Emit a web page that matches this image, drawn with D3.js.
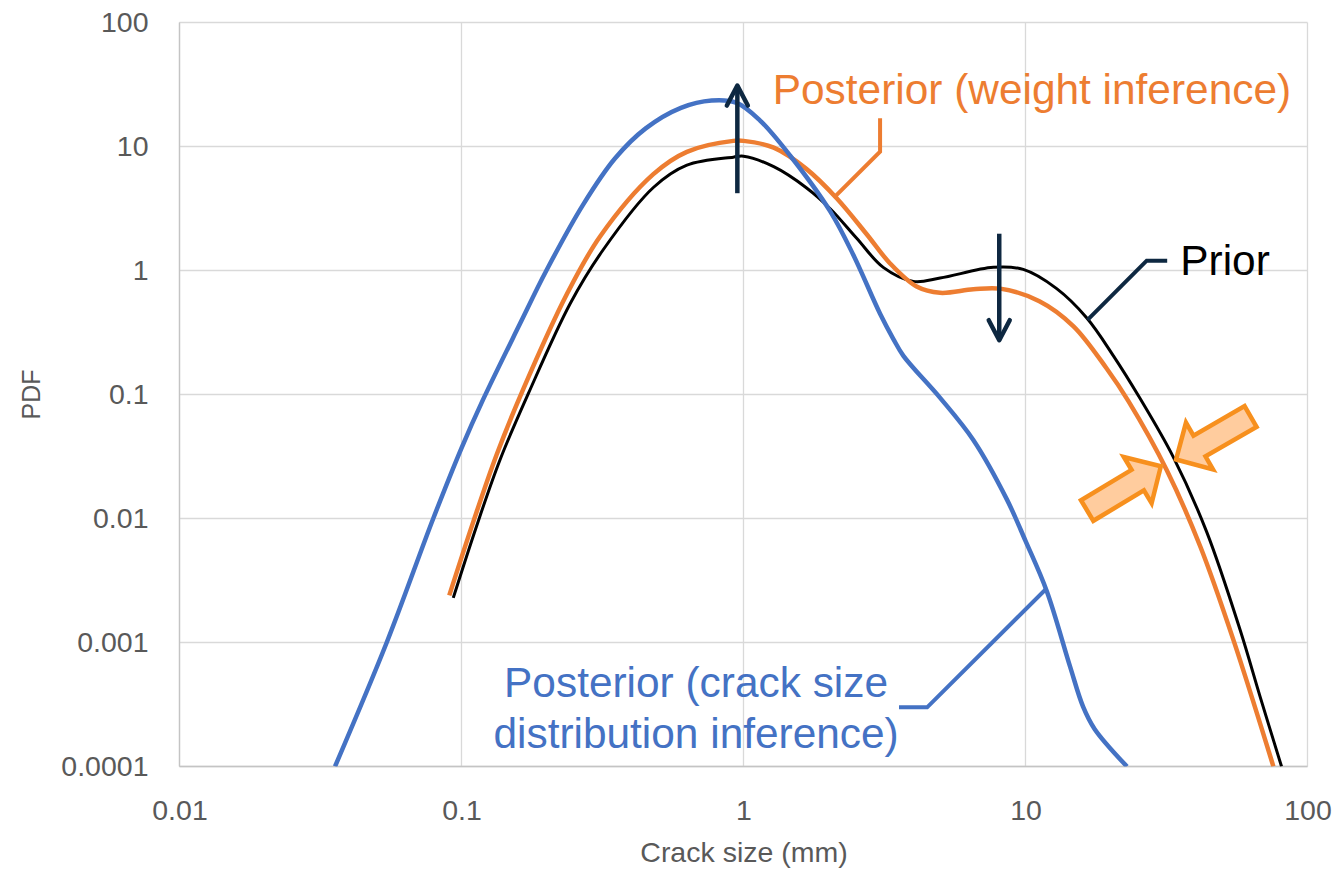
<!DOCTYPE html>
<html>
<head>
<meta charset="utf-8">
<script src="https://cdn.jsdelivr.net/npm/d3@7/dist/d3.min.js"></script>
<style>
  body { margin: 0; background: #fff; }
  text { font-family: "Liberation Sans", Arial, sans-serif; }
</style>
</head>
<body>
<div id="chart"></div>
<script>
// tick values and labels
var xTicks = [0.01, 0.1, 1, 10, 100];
var xTickLabels = ["0.01", "0.1", "1", "10", "100"];
var yTicks = [0.0001, 0.001, 0.01, 0.1, 1, 10, 100];
var yTickLabels = ["0.0001", "0.001", "0.01", "0.1", "1", "10", "100"];

// Prior (black)
var priorX = [0.0935, 0.113, 0.137, 0.173, 0.243, 0.318, 0.479, 0.63, 0.92, 1.0, 1.28, 1.67, 2.03, 2.52, 3.13, 4.0, 4.98, 7.69, 9.82, 12.9, 16.5, 20.5, 25.4, 33.4, 43.9, 57.7, 67.9, 80.9];
var priorY = [0.00229, 0.00863, 0.0298, 0.103, 0.542, 1.47, 4.67, 7.07, 8.2, 8.35, 6.87, 4.65, 3.15, 1.82, 1.06, 0.817, 0.869, 1.06, 1.02, 0.714, 0.414, 0.205, 0.094, 0.0314, 0.0078, 0.00126, 0.000366, 0.0001];

// Posterior (weight inference), orange
var weightX = [0.0905, 0.11, 0.133, 0.166, 0.236, 0.31, 0.479, 0.63, 0.92, 1.0, 1.28, 1.67, 2.14, 2.73, 3.31, 4.11, 4.98, 6.53, 8.13, 11.2, 14.8, 19.4, 23.2, 31.7, 41.7, 54.6, 75.7];
var weightY = [0.0024, 0.00935, 0.0324, 0.112, 0.64, 1.88, 5.98, 9.06, 11.1, 11.1, 9.78, 6.6, 3.83, 1.97, 1.14, 0.743, 0.661, 0.705, 0.714, 0.566, 0.355, 0.162, 0.088, 0.0245, 0.00592, 0.00105, 0.0001];

// Posterior (crack size distribution inference), blue
var crackX = [0.0356, 0.0543, 0.0794, 0.1, 0.119, 0.161, 0.2, 0.27, 0.35, 0.45, 0.6, 0.771, 0.946, 1.145, 1.46, 2.03, 2.45, 3.05, 3.4, 3.69, 4.98, 6.53, 8.57, 10, 11.9, 14.4, 16.0, 17.6, 22.9];
var crackY = [0.0001, 0.001, 0.01, 0.037, 0.09, 0.37, 1.0, 3.4, 8.0, 14.0, 20.5, 23.5, 22.5, 16.2, 8.5, 3.0, 1.34, 0.448, 0.28, 0.205, 0.094, 0.043, 0.0144, 0.0066, 0.00259, 0.000636, 0.000304, 0.0002, 0.0001];

var svgWidth = 1337;
var svgHeight = 870;

var margin = { top: 22.5, right: 29.5, bottom: 103.5, left: 179.5 };
var width = svgWidth - margin.left - margin.right;
var height = svgHeight - margin.top - margin.bottom;

var svg = d3.select("#chart")
  .append("svg")
  .attr("width", svgWidth)
  .attr("height", svgHeight);

var chartGroup = svg.append("g")
  .attr("transform", `translate(${margin.left}, ${margin.top})`);

var x = d3.scaleLog().domain([0.01, 100]).range([0, width]);
var y = d3.scaleLog().domain([0.0001, 100]).range([height, 0]);

// gridlines
chartGroup.selectAll(".vgrid")
  .data(xTicks)
  .enter()
  .append("line")
  .attr("x1", d => x(d)).attr("x2", d => x(d))
  .attr("y1", 0).attr("y2", height)
  .attr("stroke", "#d9d9d9").attr("stroke-width", 1.3);

chartGroup.selectAll(".hgrid")
  .data(yTicks)
  .enter()
  .append("line")
  .attr("x1", 0).attr("x2", width)
  .attr("y1", d => y(d)).attr("y2", d => y(d))
  .attr("stroke", "#d9d9d9").attr("stroke-width", 1.3);

// axis lines
chartGroup.append("line")
  .attr("x1", 0).attr("x2", 0).attr("y1", 0).attr("y2", height)
  .attr("stroke", "#c4c4c4").attr("stroke-width", 1.3);
chartGroup.append("line")
  .attr("x1", 0).attr("x2", width).attr("y1", height).attr("y2", height)
  .attr("stroke", "#c4c4c4").attr("stroke-width", 1.3);

// axes (labels only)
var leftAxis = d3.axisLeft(y).tickValues(yTicks)
  .tickFormat((d, i) => yTickLabels[i]).tickSize(0).tickPadding(31);
var bottomAxis = d3.axisBottom(x).tickValues(xTicks)
  .tickFormat((d, i) => xTickLabels[i]).tickSize(0).tickPadding(33);

var gy = chartGroup.append("g").call(leftAxis);
var gx = chartGroup.append("g").attr("transform", `translate(0, ${height})`).call(bottomAxis);

[gx, gy].forEach(function(g) {
  g.select(".domain").remove();
  g.attr("font-family", null).attr("font-size", null);
  g.selectAll("text").attr("fill", "#595959").attr("font-size", "28.5px");
});

// axis titles
chartGroup.append("text")
  .attr("transform", `translate(${31 - margin.left}, ${height / 2}) rotate(-90)`)
  .attr("text-anchor", "middle")
  .attr("dy", "0.35em")
  .attr("fill", "#595959")
  .attr("font-size", "25px")
  .text("PDF");

chartGroup.append("text")
  .attr("x", 744 - margin.left)
  .attr("y", 862 - margin.top)
  .attr("text-anchor", "middle")
  .attr("fill", "#595959")
  .attr("font-size", "28.5px")
  .text("Crack size (mm)");

// curves
chartGroup.append("clipPath").attr("id", "plotclip")
  .append("rect").attr("width", width).attr("height", height);

var line = d3.line()
  .x(d => x(d[0]))
  .y(d => y(d[1]))
  .curve(d3.curveCatmullRom.alpha(0.5));

var curves = chartGroup.append("g").attr("clip-path", "url(#plotclip)");

curves.append("path")
  .datum(d3.zip(priorX, priorY))
  .attr("d", line)
  .attr("fill", "none")
  .attr("stroke", "#000")
  .attr("stroke-width", 3);

curves.append("path")
  .datum(d3.zip(weightX, weightY))
  .attr("d", line)
  .attr("fill", "none")
  .attr("stroke", "#ed7d31")
  .attr("stroke-width", 4.5);

curves.append("path")
  .datum(d3.zip(crackX, crackY))
  .attr("d", line)
  .attr("fill", "none")
  .attr("stroke", "#4472c4")
  .attr("stroke-width", 4.5);

// annotations
var navy = "#0e2841";

function vArrow(xv, yFrom, yTo) {
  var px = x(xv), p0 = y(yFrom), p1 = y(yTo);
  var dir = p1 < p0 ? 1 : -1;
  chartGroup.append("line")
    .attr("x1", px).attr("x2", px).attr("y1", p0).attr("y2", p1)
    .attr("stroke", navy).attr("stroke-width", 4.5);
  chartGroup.append("path")
    .attr("d", `M${px - 10.5},${p1 + dir * 20}L${px},${p1}L${px + 10.5},${p1 + dir * 20}`)
    .attr("fill", "none").attr("stroke", navy).attr("stroke-width", 4.5)
    .attr("stroke-linejoin", "round").attr("stroke-linecap", "round");
}
vArrow(0.951, 4.2, 31);
vArrow(8.07, 1.98, 0.274);

var leader = d3.line().x(d => x(d[0])).y(d => y(d[1]));

function callout(pts, color) {
  chartGroup.append("path")
    .attr("d", leader(pts))
    .attr("fill", "none").attr("stroke", color).attr("stroke-width", 4);
}

callout([[16.6, 0.4], [26.9, 1.2], [31.8, 1.2]], navy);
callout([[2.11, 3.94], [3.05, 9.08], [3.05, 16.9]], "#ed7d31");
callout([[3.56, 0.0003], [4.48, 0.0003], [11.8, 0.00269]], "#4472c4");

chartGroup.append("text")
  .attr("x", x(35.4)).attr("y", y(0.92))
  .attr("fill", "#000").attr("font-size", "42.4px")
  .text("Prior");

chartGroup.append("text")
  .attr("x", x(1.27)).attr("y", y(22.0))
  .attr("fill", "#ed7d31").attr("font-size", "42.4px")
  .text("Posterior (weight inference)");

var blueLabel = chartGroup.append("text")
  .attr("x", x(0.679)).attr("y", y(0.000361))
  .attr("text-anchor", "middle")
  .attr("fill", "#4472c4").attr("font-size", "42.4px");
blueLabel.append("tspan").attr("x", x(0.679)).text("Posterior (crack size");
blueLabel.append("tspan").attr("x", x(0.679)).attr("dy", 51).text("distribution inference)");

// squeeze block arrows
function blockArrow(xv, yv, angle) {
  var L = 86, hl = 27, hw = 27, sw = 12;
  var pts = [[0, 0], [-hl, -hw], [-hl, -sw], [-L, -sw], [-L, sw], [-hl, sw], [-hl, hw]];
  chartGroup.append("path")
    .attr("d", "M" + pts.join("L") + "Z")
    .attr("transform", `translate(${x(xv)}, ${y(yv)}) rotate(${angle})`)
    .attr("fill", "#ffcc9e")
    .attr("stroke", "#f7901e")
    .attr("stroke-width", 4.5)
    .attr("stroke-linejoin", "miter");
}
blockArrow(34.2, 0.0299, 150);
blockArrow(30.2, 0.0264, -31);
</script>
</body>
</html>
